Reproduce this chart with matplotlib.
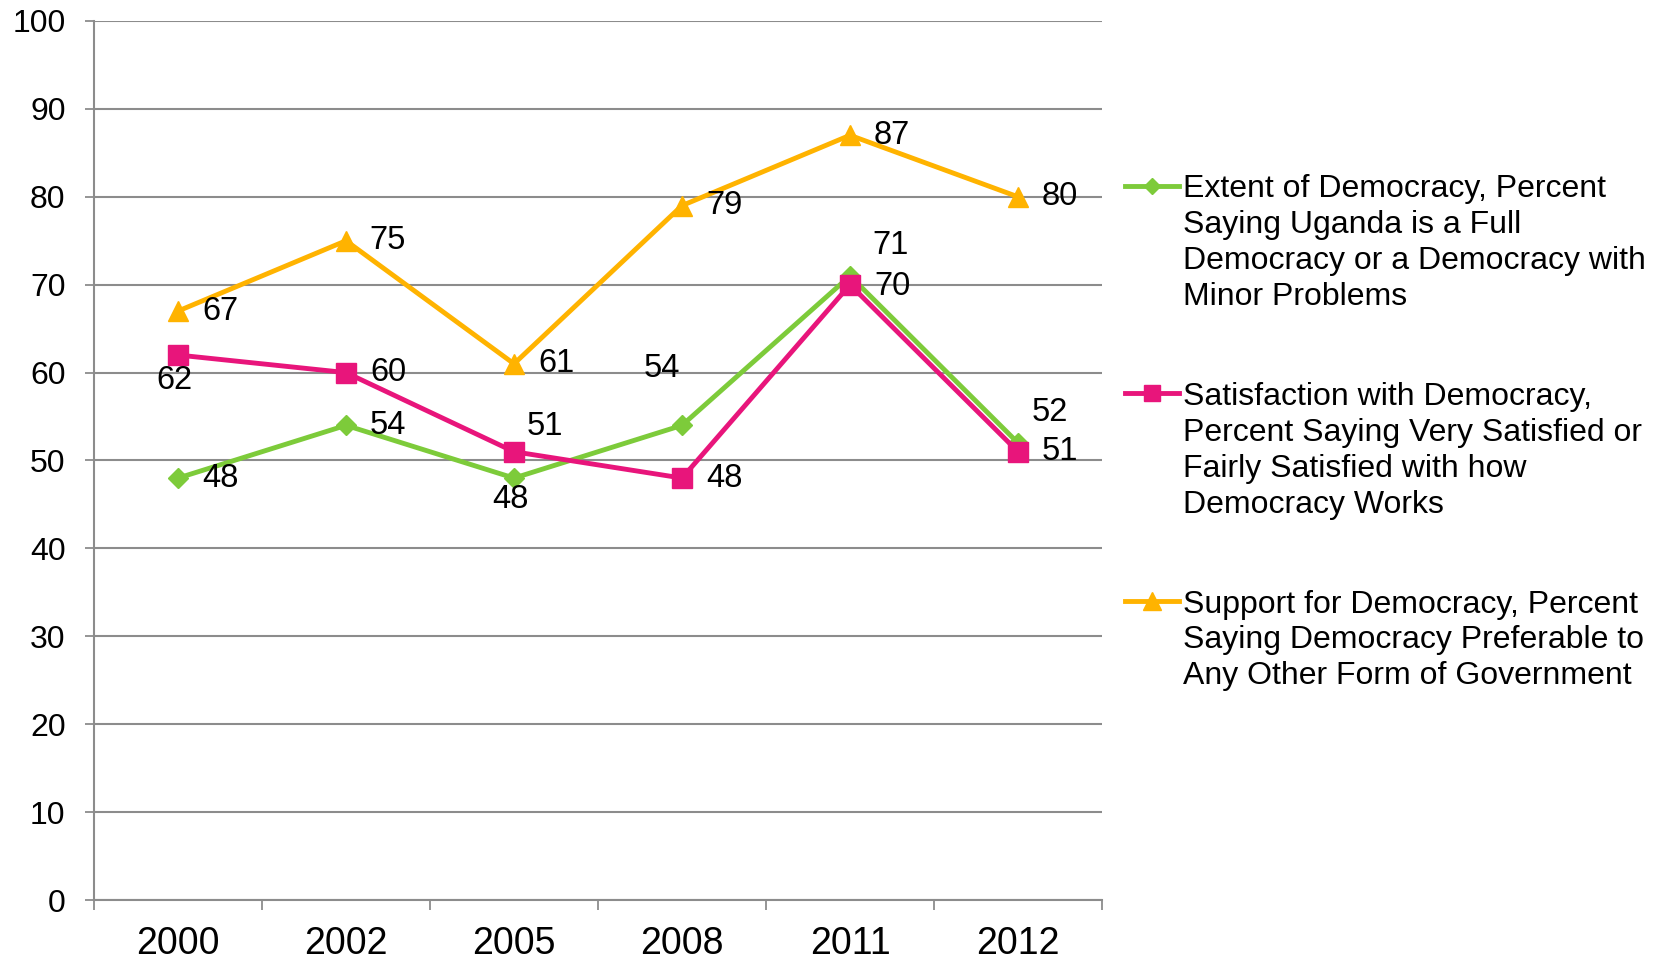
import matplotlib
matplotlib.use("Agg")
import matplotlib.pyplot as plt
from matplotlib.lines import Line2D

plt.rcParams['font.family'] = ['Liberation Sans', 'DejaVu Sans']

years = ['2000', '2002', '2005', '2008', '2011', '2012']
extent = [48, 54, 48, 54, 71, 52]
satisfaction = [62, 60, 51, 48, 70, 51]
support = [67, 75, 61, 79, 87, 80]

labels = [
    "Extent of Democracy, Percent\nSaying Uganda is a Full\nDemocracy or a Democracy with\nMinor Problems",
    "Satisfaction with Democracy,\nPercent Saying Very Satisfied or\nFairly Satisfied with how\nDemocracy Works",
    "Support for Democracy, Percent\nSaying Democracy Preferable to\nAny Other Form of Government",
]

colors = ['#7DCB3A', '#E8157B', '#FFB300']
markers = ['D', 's', '^']
msizes = [10, 14, 15]

# where each value label sits relative to its point (pixels)
offsets = [
    [(42, 0), (42, 0), (-4, -21), (-20, 57), (41, 30), (32, 30)],
    [(-4, -25), (42, 0), (31, 25), (42, 0), (42, -2), (42, 0)],
    [(42, 0)] * 6,
]

fig = plt.figure(figsize=(16.6, 9.6), dpi=100)
ax = fig.add_axes([94 / 1660, 1 - 900 / 960, (1102 - 94) / 1660, (900 - 21) / 960])

x = list(range(len(years)))
for vals, col, mk, ms, offs in zip([extent, satisfaction, support], colors, markers, msizes, offsets):
    ax.plot(x, vals, color=col, lw=3.5, marker=mk, ms=ms, mec=col, mfc=col, zorder=3)
    for xi, v, (dx, dy) in zip(x, vals, offs):
        ax.annotate(str(v), (xi, v), xytext=(dx, dy), textcoords='offset pixels',
                    ha='center', va='center', fontsize=23.5, color='black', zorder=5)

ax.set_xlim(-0.5, len(years) - 0.5)
ax.set_ylim(0, 100)
ax.set_yticks(range(0, 101, 10))
ax.yaxis.grid(True, color='#8c8c8c', lw=1.5)
ax.set_axisbelow(True)

ax.set_xticks([i - 0.5 for i in range(len(years) + 1)])
ax.set_xticklabels([])
ax.set_xticks(x, minor=True)
ax.set_xticklabels(years, minor=True)
ax.tick_params(axis='x', which='major', length=7, width=1.3, color='#8c8c8c', direction='out')
ax.tick_params(axis='x', which='minor', length=0, pad=19, labelsize=27)
ax.tick_params(axis='y', length=6.5, width=1.3, color='#8c8c8c', direction='out', pad=14, labelsize=23)

for s in ['top', 'right']:
    ax.spines[s].set_visible(False)
for s in ['left', 'bottom']:
    ax.spines[s].set_color('#8c8c8c')
    ax.spines[s].set_linewidth(1.5)

# legend drawn by hand so the key sits on the first line of each entry
tops = [174.5, 382, 589.5]
for lab, col, mk, ms, top in zip(labels, colors, markers, msizes, tops):
    yk = 1 - (top + 11) / 960
    fig.add_artist(Line2D([1125 / 1660, 1179 / 1660], [yk, yk], color=col, lw=3.5,
                          transform=fig.transFigure))
    fig.add_artist(Line2D([1152 / 1660], [yk], color=col, marker=mk, ms=ms * 0.85, mec=col,
                          mfc=col, transform=fig.transFigure))
    fig.text(1183 / 1660, 1 - top / 960, lab, ha='left', va='top', fontsize=23,
             linespacing=1.26)

fig.savefig('out.png', dpi=100)
